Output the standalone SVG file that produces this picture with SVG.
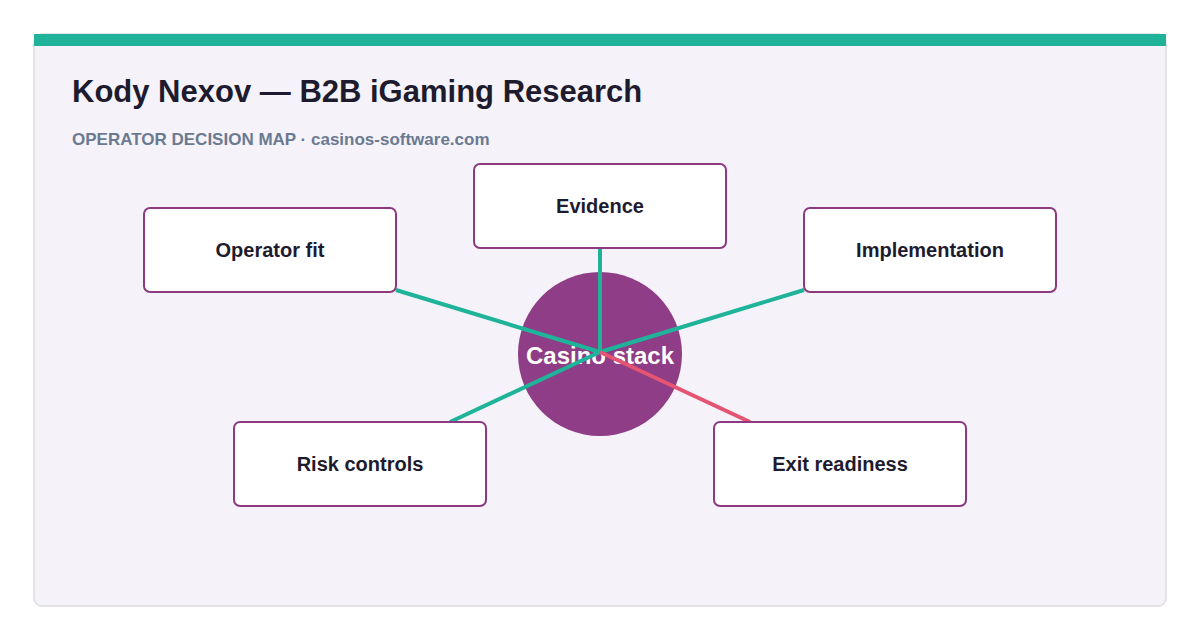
<svg xmlns="http://www.w3.org/2000/svg" width="1200" height="640" viewBox="0 0 1200 640">
<style>
.node rect{fill:#fff;stroke:#8e3a80;stroke-width:2}
.node text{font-family:"Liberation Sans",Arial,sans-serif;font-weight:bold;font-size:20px;fill:#1e1b2e;text-anchor:middle}
.edge{stroke:#1fb39a;stroke-width:4;stroke-linecap:butt}
</style>
<rect width="1200" height="640" fill="#fff"/>
<rect x="34" y="34" width="1132" height="572" rx="8" fill="#f5f3f9" stroke="#dcdce2" stroke-width="1.5"/>
<rect x="34" y="34" width="1132" height="12" fill="#1fb39a"/>
<text x="72" y="102" font-family="'Liberation Sans',Arial,sans-serif" font-weight="bold" font-size="31" fill="#1e1b2e">Kody Nexov — B2B iGaming Research</text>
<text x="72" y="145" font-family="'Liberation Sans',Arial,sans-serif" font-weight="bold" font-size="17" fill="#6b7a90">OPERATOR DECISION MAP · casinos-software.com</text>
<g id="center">
<circle cx="600" cy="354" r="82" fill="#8e3d86"/>
<text x="600" y="364" font-family="'Liberation Sans',Arial,sans-serif" font-weight="bold" font-size="24" fill="#fff" text-anchor="middle">Casino stack</text>
</g>
<g id="connectors">
<line class="edge" x1="600" y1="352" x2="600" y2="248"/>
<line class="edge" x1="600" y1="352" x2="396" y2="290"/>
<line class="edge" x1="600" y1="352" x2="804" y2="290"/>
<line class="edge" x1="600" y1="352" x2="450" y2="422"/>
<line class="edge" x1="600" y1="352" x2="750" y2="422" style="stroke:#e55472"/>
</g>
<g id="evidence" class="node"><rect x="474" y="164" width="252" height="84" rx="6"/><text x="600" y="213">Evidence</text></g>
<g id="operator-fit" class="node"><rect x="144" y="208" width="252" height="84" rx="6"/><text x="270" y="257">Operator fit</text></g>
<g id="implementation" class="node"><rect x="804" y="208" width="252" height="84" rx="6"/><text x="930" y="257">Implementation</text></g>
<g id="risk-controls" class="node"><rect x="234" y="422" width="252" height="84" rx="6"/><text x="360" y="471">Risk controls</text></g>
<g id="exit-readiness" class="node"><rect x="714" y="422" width="252" height="84" rx="6"/><text x="840" y="471">Exit readiness</text></g>
</svg>
